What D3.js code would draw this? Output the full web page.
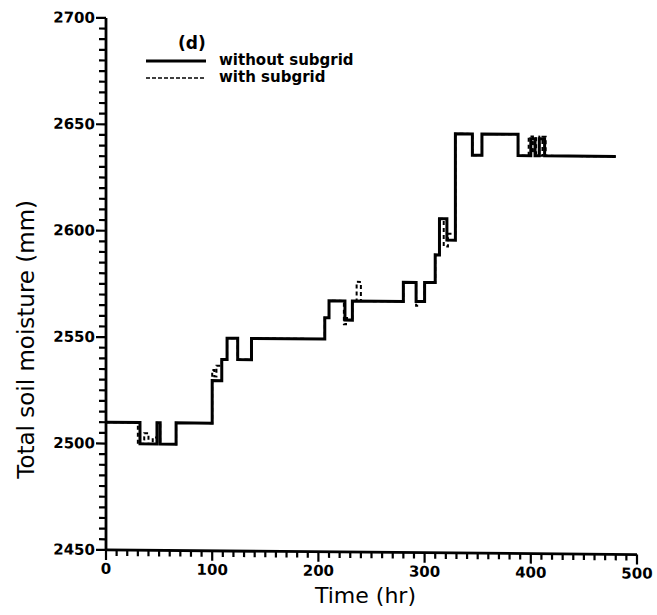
<!DOCTYPE html>
<html>
<head>
<meta charset="utf-8">
<script src="https://cdn.jsdelivr.net/npm/d3@7"></script>
<style>
  html, body { margin: 0; padding: 0; background: #fff; }
  svg { display: block; }
  text { font-family: "DejaVu Sans", sans-serif; fill: #000; }
</style>
</head>
<body>
<svg id="chart" width="657" height="615"></svg>
<script>
// ---- data ----
const xTicks = [0, 100, 200, 300, 400, 500];
const yTicks = [2450, 2500, 2550, 2600, 2650, 2700];

// without subgrid (step series: value holds from time until next time)
const solidTime = [0, 32, 48, 51, 66, 100, 109, 114, 124, 137, 206, 210, 225, 232, 280, 292, 300, 310, 314, 321, 329, 345, 354, 388, 400, 404, 408, 413, 480];
const solidVal  = [2510, 2500, 2510, 2500, 2510, 2530, 2540, 2550, 2540, 2550, 2560, 2568, 2559, 2568, 2577, 2568, 2577, 2590, 2607, 2597, 2647, 2637, 2647, 2637, 2645, 2637, 2645, 2637, 2637];

// with subgrid
const dashTime = [0, 30, 36, 40, 44, 48, 51, 66, 100, 102, 104, 109, 114, 124, 137, 206, 210, 224, 226, 232, 236, 240, 280, 292, 294, 300, 310, 314, 318, 322, 329, 345, 354, 388, 398, 402, 405, 408, 411, 414, 480];
const dashVal  = [2510, 2500, 2505, 2500, 2503, 2510, 2500, 2510, 2535, 2532, 2537, 2540, 2550, 2540, 2550, 2560, 2568, 2557, 2560, 2568, 2577, 2568, 2577, 2566, 2568, 2577, 2590, 2607, 2594, 2600, 2647, 2637, 2647, 2637, 2646, 2638, 2646, 2637, 2646, 2637, 2637];

const legendLabels = ["without subgrid", "with subgrid"];
const panelLabel = "(d)";
const xTitle = "Time  (hr)";
const yTitle = "Total  soil  moisture  (mm)";

// ---- layout ----
const svg = d3.select("#chart");
const X0 = 106, X1 = 637, Y0 = 550, Y1 = 18;
const x = d3.scaleLinear().domain([0, 500]).range([X0, X1]);
const y = d3.scaleLinear().domain([2450, 2700]).range([Y0, Y1]);

// slight scan skew: right side sits a few pixels lower
const g = svg.append("g").attr("transform", "translate(0,-1) skewY(0.5)");

// ticks (pointing outward)
const xMinor = d3.range(0, 501, 10);
const yMinor = d3.range(2450, 2701, 5);
g.append("g").selectAll("line").data(xMinor).join("line")
  .attr("x1", d => x(d)).attr("x2", d => x(d))
  .attr("y1", Y0).attr("y2", d => Y0 + (d % 100 === 0 ? 10 : 6))
  .attr("stroke", "#000").attr("stroke-width", 2.2);
g.append("g").selectAll("line").data(yMinor).join("line")
  .attr("y1", d => y(d)).attr("y2", d => y(d))
  .attr("x1", X0).attr("x2", d => X0 - (d % 50 === 0 ? 10 : 7))
  .attr("stroke", "#000").attr("stroke-width", 2.2);

// axis lines
g.append("line").attr("x1", X0).attr("x2", X1).attr("y1", Y0).attr("y2", Y0)
  .attr("stroke", "#000").attr("stroke-width", 2.8);
g.append("line").attr("x1", X0).attr("x2", X0).attr("y1", Y0).attr("y2", Y1)
  .attr("stroke", "#000").attr("stroke-width", 2.8);

// tick labels
g.append("g").selectAll("text").data(xTicks).join("text")
  .attr("x", d => x(d)).attr("y", Y0 + 24)
  .attr("text-anchor", "middle")
  .attr("font-size", 15).attr("font-weight", "bold")
  .text(d => d);
g.append("g").selectAll("text").data(yTicks).join("text")
  .attr("x", X0 - 11).attr("y", d => y(d) + 5)
  .attr("text-anchor", "end")
  .attr("font-size", 15).attr("font-weight", "bold")
  .text(d => d);

// axis titles
svg.append("text").attr("x", x(250) - 6).attr("y", 603)
  .attr("text-anchor", "middle").attr("font-size", 22)
  .text(xTitle);
svg.append("text")
  .attr("transform", `translate(34, ${y(2549)}) rotate(-90)`)
  .attr("text-anchor", "middle").attr("font-size", 23)
  .text(yTitle);

// series
const stepLine = d3.line().x(d => x(d[0])).y(d => y(d[1])).curve(d3.curveStepAfter);
const solidData = solidTime.map((t, i) => [t, solidVal[i]]);
const dashData = dashTime.map((t, i) => [t, dashVal[i]]);

g.append("path").attr("d", stepLine(dashData))
  .attr("fill", "none").attr("stroke", "#000").attr("stroke-width", 2)
  .attr("stroke-dasharray", "4,3");
g.append("path").attr("d", stepLine(solidData))
  .attr("fill", "none").attr("stroke", "#000").attr("stroke-width", 3);

// legend
svg.append("text").attr("x", 178).attr("y", 49).attr("font-size", 17).attr("font-weight", "bold").text(panelLabel);
svg.append("line").attr("x1", 146).attr("x2", 206).attr("y1", 61).attr("y2", 61)
  .attr("stroke", "#000").attr("stroke-width", 3);
svg.append("line").attr("x1", 146).attr("x2", 206).attr("y1", 78).attr("y2", 78)
  .attr("stroke", "#000").attr("stroke-width", 1.5).attr("stroke-dasharray", "4,2");
svg.append("text").attr("x", 219).attr("y", 65).attr("font-size", 15).attr("font-weight", "bold").text(legendLabels[0]);
svg.append("text").attr("x", 219).attr("y", 82).attr("font-size", 15).attr("font-weight", "bold").text(legendLabels[1]);
</script>
</body>
</html>
